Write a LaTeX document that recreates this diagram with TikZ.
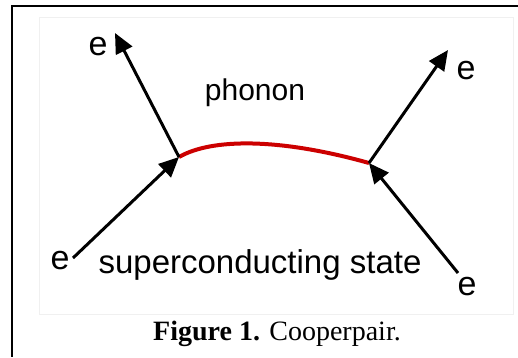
\documentclass[tikz,border=0pt]{standalone}
\usepackage{fontspec}
\setmainfont{Liberation Sans}
\newfontfamily\capfont{Liberation Serif}
\usetikzlibrary{arrows.meta}
\definecolor{phonred}{RGB}{204,0,0}

\begin{document}
\begin{tikzpicture}[x=1pt, y=-1pt,
    elec/.style={draw=black, line width=3pt, -{Triangle[length=20pt,width=18pt]}},
    phon/.style={draw=phonred, line width=4pt},
    lbl/.style={font=\fontsize{34}{34}\selectfont, inner sep=0pt}]
  \useasboundingbox (0,0) rectangle (518,357);
  \draw[line width=2pt] (518,6) -- (12,6) -- (12,357);
  \draw[black!6, line width=0.6pt] (39,17) rectangle (513,314);

  % vertices and free electron ends
  \coordinate (vl) at (179,157);
  \coordinate (vr) at (369,163);
  \coordinate (inl) at (73,258);
  \coordinate (inr) at (458,273);
  \coordinate (outl) at (115,33);
  \coordinate (outr) at (448,50);

  \node[lbl] (eul) at (98,47) {e};
  \node[lbl] (eur) at (466,71) {e};
  \node[lbl] (ell) at (60,261) {e};
  \node[lbl] (elr) at (467,287) {e};

  \node[lbl, font=\fontsize{30}{30}\selectfont, anchor=base] (phonon) at (255,100) {phonon};
  \node[lbl, font=\fontsize{33}{33}\selectfont, anchor=base] (state) at (260,273) {superconducting state};
  \node[inner sep=0pt, anchor=base, font=\capfont\fontsize{28}{28}\selectfont] (cap) at (277,340) {\textbf{Figure 1.} Cooperpair.};

  \draw[phon] (vl) .. controls (212,138) and (280,138) .. (vr);
  \draw[elec] (inl) -- (vl);
  \draw[elec] (vl) -- (outl);
  \draw[elec] (inr) -- (vr);
  \draw[elec] (vr) -- (outr);
\end{tikzpicture}
\end{document}
